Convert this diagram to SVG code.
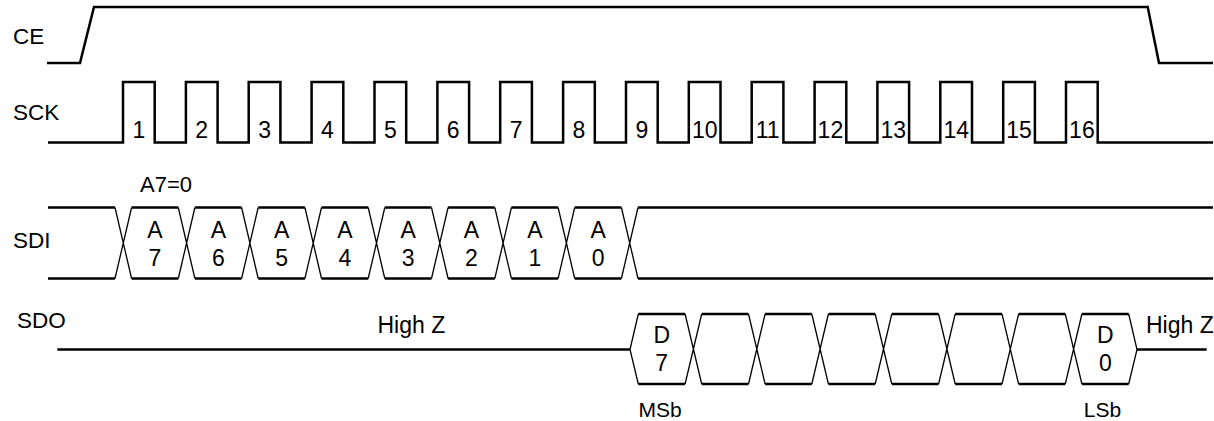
<svg xmlns="http://www.w3.org/2000/svg" width="1214" height="421" viewBox="0 0 1214 421">
<style>
.bg{fill:#fff}
.w{fill:none;stroke:#000;stroke-width:2.5;stroke-linejoin:miter;stroke-linecap:butt}
.d{fill:none;stroke:#000;stroke-width:1.3}
.t{font-family:"Liberation Sans",Arial,Helvetica,sans-serif;font-size:22.5px;fill:#000}
.n{font-family:"Liberation Sans",Arial,Helvetica,sans-serif;font-size:23px;fill:#000;text-anchor:middle}
.s{font-family:"Liberation Sans",Arial,Helvetica,sans-serif;font-size:21px;fill:#000;text-anchor:middle}
</style>
<rect class="bg" x="0" y="0" width="1214" height="421"/>
<g id="ce">
<text class="t" x="13" y="43.5">CE</text>
<path class="w" d="M47,63 H80 L94,7 H1147.7 L1159,63 H1213"/>
</g>
<g id="sck">
<text class="t" x="13" y="120">SCK</text>
<path class="w" d="M48,142.5 H123 V82 H154.7 V142.5 H185.9 V82 H217.6 V142.5 H248.7 V82 H280.4 V142.5 H311.6 V82 H343.3 V142.5 H374.5 V82 H406.2 V142.5 H437.4 V82 H469.1 V142.5 H500.2 V82 H531.9 V142.5 H563.1 V82 H594.8 V142.5 H626 V82 H657.7 V142.5 H688.8 V82 H720.5 V142.5 H751.7 V82 H783.4 V142.5 H814.6 V82 H846.3 V142.5 H877.4 V82 H909.1 V142.5 H940.3 V82 H972 V142.5 H1003.2 V82 H1034.9 V142.5 H1066 V82 H1097.7 V142.5 H1213"/>
<text class="n" x="138.9" y="138">1</text>
<text class="n" x="201.7" y="138">2</text>
<text class="n" x="264.6" y="138">3</text>
<text class="n" x="327.5" y="138">4</text>
<text class="n" x="390.3" y="138">5</text>
<text class="n" x="453.2" y="138">6</text>
<text class="n" x="516.1" y="138">7</text>
<text class="n" x="578.9" y="138">8</text>
<text class="n" x="641.8" y="138">9</text>
<text class="n" x="704.7" y="138">10</text>
<text class="n" x="767.6" y="138">11</text>
<text class="n" x="830.4" y="138">12</text>
<text class="n" x="893.3" y="138">13</text>
<text class="n" x="956.2" y="138">14</text>
<text class="n" x="1019" y="138">15</text>
<text class="n" x="1081.9" y="138">16</text>
</g>
<g id="sdi">
<text class="t" x="13" y="248.3">SDI</text>
<text class="n" x="166" y="192.3" style="font-size:22px">A7=0</text>
<path class="w" d="M48,207.5 H115 M131.6,207.5 H178.3 M194.9,207.5 H241.6 M258.2,207.5 H304.9 M321.5,207.5 H368.2 M384.8,207.5 H431.5 M448.1,207.5 H494.8 M511.4,207.5 H558.1 M574.7,207.5 H621.4 M638,207.5 H1213
M48,278.5 H115 M131.6,278.5 H178.3 M194.9,278.5 H241.6 M258.2,278.5 H304.9 M321.5,278.5 H368.2 M384.8,278.5 H431.5 M448.1,278.5 H494.8 M511.4,278.5 H558.1 M574.7,278.5 H621.4 M638,278.5 H1213"/>
<path class="d" d="M115,207.5 L131.6,278.5 M115,278.5 L131.6,207.5
M178.3,207.5 L194.9,278.5 M178.3,278.5 L194.9,207.5
M241.6,207.5 L258.2,278.5 M241.6,278.5 L258.2,207.5
M304.9,207.5 L321.5,278.5 M304.9,278.5 L321.5,207.5
M368.2,207.5 L384.8,278.5 M368.2,278.5 L384.8,207.5
M431.5,207.5 L448.1,278.5 M431.5,278.5 L448.1,207.5
M494.8,207.5 L511.4,278.5 M494.8,278.5 L511.4,207.5
M558.1,207.5 L574.7,278.5 M558.1,278.5 L574.7,207.5
M621.4,207.5 L638,278.5 M621.4,278.5 L638,207.5"/>
<g class="n">
<text x="155" y="238.3">A</text><text x="155" y="266">7</text>
<text x="218.3" y="238.3">A</text><text x="218.3" y="266">6</text>
<text x="281.6" y="238.3">A</text><text x="281.6" y="266">5</text>
<text x="344.9" y="238.3">A</text><text x="344.9" y="266">4</text>
<text x="408.2" y="238.3">A</text><text x="408.2" y="266">3</text>
<text x="471.5" y="238.3">A</text><text x="471.5" y="266">2</text>
<text x="534.8" y="238.3">A</text><text x="534.8" y="266">1</text>
<text x="598.1" y="238.3">A</text><text x="598.1" y="266">0</text>
</g>
</g>
<g id="sdo">
<text class="t" x="17" y="328.3">SDO</text>
<text class="t" x="377.5" y="333.3" style="font-size:23px">High Z</text>
<text class="t" x="1146" y="333.3" style="font-size:23px">High Z</text>
<path class="w" d="M57.3,349.5 H630 M1137,349.5 H1206.7
M638.3,314 H685.1 M701.7,314 H748.5 M765.1,314 H811.8 M828.4,314 H875.2 M891.8,314 H938.6 M955.2,314 H1002 M1018.6,314 H1065.3 M1081.9,314 H1128.7
M638.3,384 H685.1 M701.7,384 H748.5 M765.1,384 H811.8 M828.4,384 H875.2 M891.8,384 H938.6 M955.2,384 H1002 M1018.6,384 H1065.3 M1081.9,384 H1128.7"/>
<path class="d" d="M638.3,314 L630,349.5 L638.3,384
M685.1,314 L701.7,384 M685.1,384 L701.7,314
M748.5,314 L765.1,384 M748.5,384 L765.1,314
M811.8,314 L828.4,384 M811.8,384 L828.4,314
M875.2,314 L891.8,384 M875.2,384 L891.8,314
M938.6,314 L955.2,384 M938.6,384 L955.2,314
M1002,314 L1018.6,384 M1002,384 L1018.6,314
M1065.3,314 L1081.9,384 M1065.3,384 L1081.9,314
M1128.7,314 L1137,349.5 L1128.7,384"/>
<text class="n" x="661.7" y="342.5">D</text>
<text class="n" x="661.7" y="371">7</text>
<text class="n" x="1105.3" y="342.5">D</text>
<text class="n" x="1105.3" y="371">0</text>
<text class="s" x="660" y="416.5">MSb</text>
<text class="s" x="1102.5" y="416.5">LSb</text>
</g>
</svg>
